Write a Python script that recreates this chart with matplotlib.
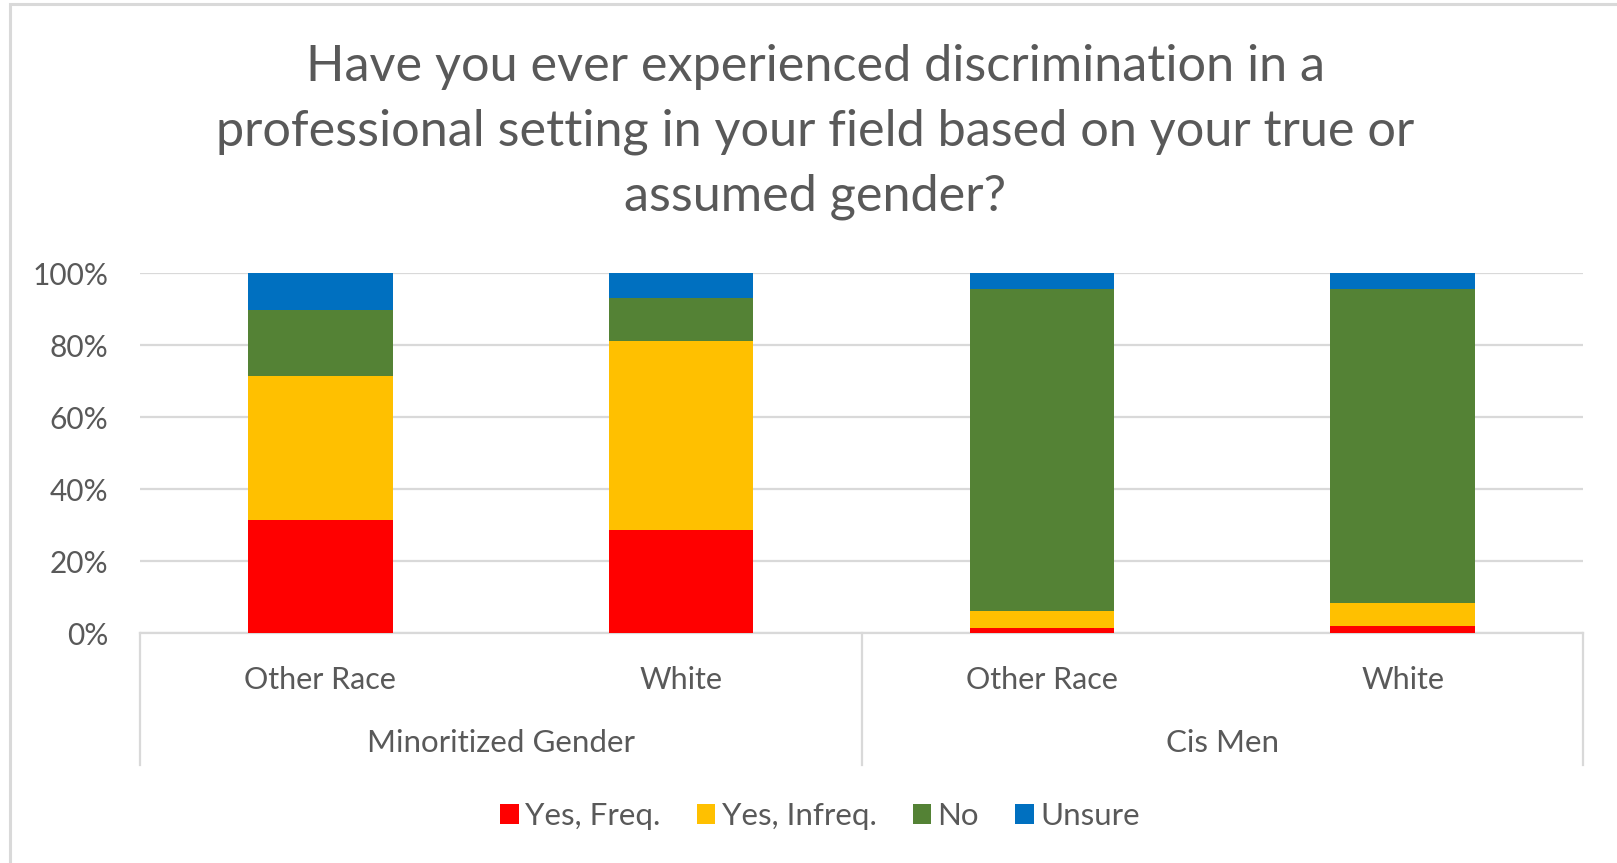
import matplotlib.pyplot as plt
import numpy as np
from matplotlib.patches import Rectangle

plt.rcParams['font.family'] = ['Lato', 'DejaVu Sans']

# respuestas por grupo (porcentaje)
subgrupos = ["Other Race", "White", "Other Race", "White"]
grupos = ["Minoritized Gender", "Cis Men"]
series = ["Yes, Freq.", "Yes, Infreq.", "No", "Unsure"]
yes_freq = [31.3, 28.5, 1.5, 1.9]
yes_infreq = [40.2, 52.7, 4.5, 6.5]
no = [18.3, 11.8, 89.5, 87.1]
unsure = [10.2, 7.0, 4.5, 4.5]
colores = ["#FF0000", "#FFC000", "#548235", "#0070C0"]

gris_texto = "#595959"
gris_linea = "#D9D9D9"

fig = plt.figure(figsize=(16.17, 8.63), dpi=100)

# borde del area del grafico
fig.patches.append(Rectangle((10 / 1617, -0.05), 1.1, 1 - 4 / 863 + 0.05,
                             transform=fig.transFigure, fill=False,
                             edgecolor=gris_linea, linewidth=2.2))

ax = fig.add_axes([140 / 1617, 1 - 633 / 863, (1583 - 140) / 1617, (633 - 273) / 863])

x = np.arange(len(subgrupos))
base = np.zeros(len(subgrupos))
for nombre, vals, c in zip(series, [yes_freq, yes_infreq, no, unsure], colores):
    ax.bar(x, vals, bottom=base, width=0.4, color=c, label=nombre, zorder=3)
    base += np.array(vals)

ax.set_xlim(-0.5, 3.5)
ax.set_ylim(0, 100)
ax.set_yticks(range(0, 101, 20))
ax.set_yticklabels([f"{v}%" for v in range(0, 101, 20)], fontsize=21.5, color=gris_texto)
ax.tick_params(axis='y', length=0, pad=23)
ax.set_xticks([])
ax.grid(axis='y', color=gris_linea, linewidth=1.6, zorder=0)
for s in ["top", "right", "left"]:
    ax.spines[s].set_visible(False)
ax.spines["bottom"].set_color(gris_linea)
ax.spines["bottom"].set_linewidth(1.6)

# etiquetas de categorias en dos niveles
trans = ax.get_xaxis_transform()
for xi, lab in zip(x, subgrupos):
    ax.text(xi, -0.13, lab, transform=trans, ha='center', va='center',
            fontsize=22, color=gris_texto)
for i, g in enumerate(grupos):
    ax.text(2 * i + 0.5, -0.305, g, transform=trans, ha='center', va='center',
            fontsize=22.5, color=gris_texto)
for xs in [-0.5, 1.5, 3.5]:
    ax.plot([xs, xs], [0, -0.367], transform=trans, color=gris_linea,
            linewidth=1.6, clip_on=False)

fig.text(815 / 1617, 1 - 132 / 863,
         "Have you ever experienced discrimination in a\n"
         "professional setting in your field based on your true or\n"
         "assumed gender?",
         ha='center', va='center', fontsize=36.3, color=gris_texto, linespacing=1.49)

fig.legend(loc='center', bbox_to_anchor=(820 / 1617, 1 - 816 / 863), ncol=4,
           frameon=False, fontsize=22.5, labelcolor=gris_texto,
           handlelength=0.6, handleheight=0.6, handletextpad=0.2, columnspacing=1.15)

fig.savefig("out.png", dpi=100)
